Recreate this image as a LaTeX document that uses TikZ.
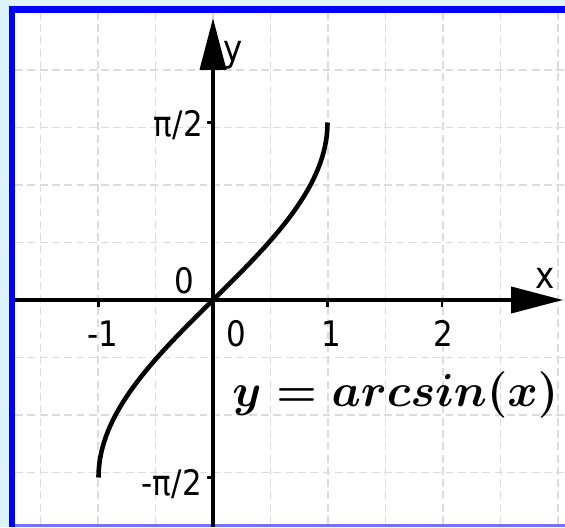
\documentclass[tikz,border=0pt]{standalone}
\usepackage[no-math]{fontspec}
\newfontfamily\ggfont{DejaVu Sans}
\usepackage{tikz}
\usetikzlibrary{arrows.meta}
\definecolor{skyback}{RGB}{221,244,252}
\definecolor{gridgray}{RGB}{220,220,220}
\tikzset{
  gridline/.style={gridgray,line width=0.7pt,dash pattern=on 4.5pt off 2.5pt},
  axis/.style={line width=2.2pt,-{Triangle[length=10.4mm,width=5.2mm]}},
  tickmark/.style={line width=1.3pt},
  lbl/.style={font=\ggfont\fontsize{20}{23}\selectfont,xscale=0.88,inner sep=0pt},
  axlbl/.style={font=\ggfont\fontsize{21}{24}\selectfont,xscale=0.88,inner sep=0pt},
  curve/.style={line width=2.6pt},
}

\begin{document}
\begin{tikzpicture}
  % frame
  \fill[skyback] (-4.26,-4.54) rectangle (7.04,6.0);
  \useasboundingbox (-4.26,-4.54) rectangle (7.04,6.0);
  \fill[blue] (-4.08,-4.54) rectangle (7.04,5.88);
  \fill[blue!55] (-3.96,-4.54) rectangle (7.04,-4.48);
  \fill[white] (-3.96,-4.48) rectangle (7.04,5.74);
  % grid
  \foreach \k in {-3,...,6} \draw[gridline] (\k*1.15,-4.48) -- (\k*1.15,5.74);
  \foreach \k in {-3,...,4} \draw[gridline] (-3.96,\k*1.15) -- (7.04,\k*1.15);
  % axes
  \coordinate (xl) at (-3.96,0); \coordinate (xr) at (7.0,0);
  \coordinate (yb) at (0,-4.54); \coordinate (yt) at (0,5.64);
  \draw[axis] (xl) -- (xr);
  \draw[axis] (yb) -- (yt);
  \foreach \t in {-2.29,2.29,4.58} \draw[tickmark] (\t,0) -- (\t,-0.13);
  \foreach \t in {-3.55,3.55} \draw[tickmark] (0,\t) -- (-0.13,\t);
  % y = arcsin x
  \draw[curve] plot[domain=-90:90,samples=120] ({2.29*sin(\x)},{3.55*\x/90});
  % labels
  \node[axlbl,anchor=base] (xname) at (6.64,0.24) {x};
  \node[axlbl,anchor=base] (yname) at (0.4,4.76) {y};
  \node[lbl,anchor=base east] (pitop) at (-0.2,3.26) {π/2};
  \node[lbl,anchor=base east] (pibot) at (-0.22,-3.9) {-π/2};
  \node[lbl,anchor=base east] (orig) at (-0.38,0.14) {0};
  \node[lbl,anchor=base] (xzero) at (0.46,-0.92) {0};
  \node[lbl,anchor=base] (xmone) at (-2.2,-0.92) {-1};
  \node[lbl,anchor=base] (xone) at (2.36,-0.92) {1};
  \node[lbl,anchor=base] (xtwo) at (4.6,-0.92) {2};
  \node[anchor=west,inner sep=0pt,scale=1.06,font=\fontsize{24.88}{28}\selectfont\boldmath] (eqn) at (0.38,-1.9) {$y=arcsin(x)$};
\end{tikzpicture}
\end{document}
